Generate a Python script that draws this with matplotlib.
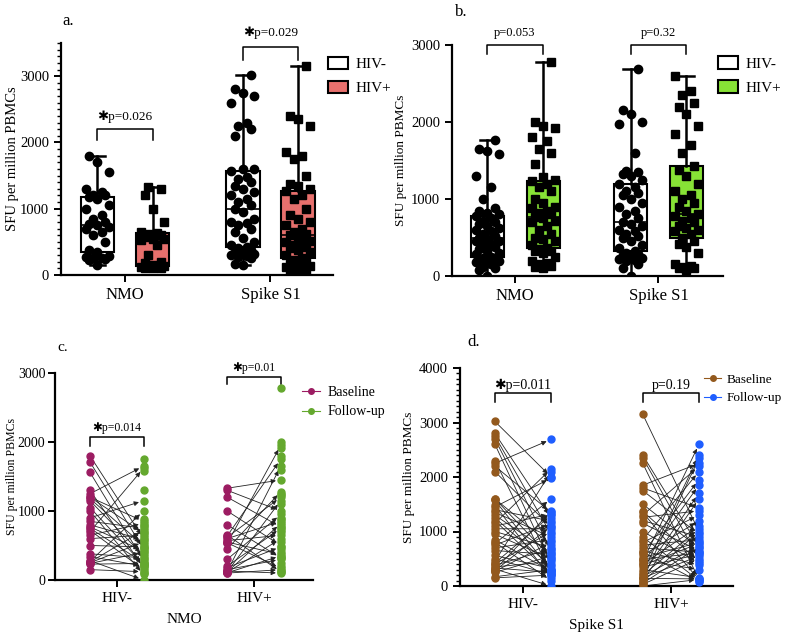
import numpy as np
import matplotlib.pyplot as plt
from matplotlib.lines import Line2D
from matplotlib.patches import Patch
from matplotlib.ticker import MultipleLocator

plt.rcParams['font.family'] = ['Liberation Serif', 'DejaVu Sans']

# SFU per million PBMCs, baseline (panel a)
nmo_neg_base = [150, 230, 240, 250, 260, 270, 280, 340, 380, 500, 600, 650, 700, 720, 750,
                770, 800, 850, 900, 1000, 1050, 1150, 1180, 1200, 1200, 1250, 1300, 1560, 1710, 1800]
nmo_pos_base = [100, 105, 110, 115, 120, 125, 130, 150, 180, 200, 300, 450, 530, 540, 550,
                570, 600, 620, 640, 650, 800, 1000, 1200, 1300, 1330]
s1_neg_base = [150, 170, 250, 270, 280, 300, 310, 330, 350, 380, 400, 420, 450, 500, 560,
               650, 700, 750, 780, 800, 850, 950, 1000, 1050, 1100, 1150, 1200, 1250, 1300, 1350,
               1400, 1450, 1480, 1570, 1600, 1600, 2100, 2200, 2250, 2300, 2600, 2700, 2750, 2800, 3020]
s1_pos_base = [0, 30, 50, 80, 100, 120, 140, 150, 170, 200, 220, 250, 300, 350, 380,
               400, 420, 450, 480, 500, 520, 560, 600, 620, 650, 700, 750, 800, 850, 900,
               1000, 1150, 1200, 1260, 1300, 1350, 1370, 1500, 1750, 1800, 1850, 2250, 2350, 2400, 3150]

# SFU per million PBMCs, follow-up (panel b)
nmo_neg_fu = [0, 80, 100, 120, 150, 180, 200, 200, 220, 230, 240, 250, 280, 300, 320,
              350, 380, 400, 420, 450, 460, 480, 500, 520, 550, 580, 600, 620, 650, 680,
              700, 720, 750, 780, 800, 820, 850, 880, 1000, 1150, 1300, 1580, 1620, 1650, 1760]
nmo_pos_fu = [100, 120, 130, 150, 170, 200, 250, 300, 320, 330, 350, 370, 400, 450, 480,
              500, 550, 600, 650, 700, 720, 750, 770, 800, 820, 850, 880, 900, 950, 1000,
              1100, 1150, 1200, 1230, 1250, 1280, 1450, 1600, 1650, 1750, 1800, 1920, 1950, 2000, 2780]
s1_neg_fu = [0, 100, 150, 200, 210, 220, 240, 250, 270, 290, 300, 320, 360, 400, 450,
             500, 520, 550, 580, 600, 650, 680, 700, 750, 800, 850, 900, 950, 1000, 1050,
             1080, 1100, 1150, 1190, 1250, 1300, 1320, 1350, 1370, 1600, 1980, 2000, 2100, 2150, 2690]
s1_pos_fu = [80, 100, 110, 120, 130, 150, 300, 380, 420, 450, 500, 550, 580, 600, 620,
             650, 700, 720, 750, 780, 800, 850, 900, 950, 1000, 1050, 1100, 1200, 1300, 1380,
             1430, 1600, 1700, 1850, 1950, 2100, 2200, 2250, 2350, 2400, 2600]

antigens = ['NMO', 'Spike S1']
groups = ['HIV-', 'HIV+']

W, H = 791, 636
fig = plt.figure(figsize=(W / 100, H / 100), dpi=100)

SPREAD = [0, -0.055, 0.055, -0.03, 0.03, -0.08, 0.08]


def style_axis(ax):
    for s in ['top', 'right']:
        ax.spines[s].set_visible(False)
    for s in ['left', 'bottom']:
        ax.spines[s].set_linewidth(1.6)
    ax.tick_params(axis='both', direction='out', length=5, width=1.4, labelsize=10.5)
    ax.tick_params(axis='y', which='minor', length=3, width=1.0)


def bracket(ax, x0, x1, y_leg, y_top, label, fs=9.5, gap=0.6):
    ax.plot([x0, x0, x1, x1], [y_leg, y_top, y_top, y_leg], color='k', lw=1.1, clip_on=False)
    ax.text((x0 + x1) / 2, y_top + (y_top - y_leg) * gap, label, ha='center', va='bottom',
            fontsize=fs, clip_on=False)


def box_panel(ax, base_sets, fill, off):
    for i, (neg, pos) in enumerate(base_sets):
        for vals, dx, face, mk in [(neg, -off, 'white', 'o'), (pos, off, fill, 's')]:
            ax.boxplot(vals, positions=[i + dx], widths=0.23, whis=(0, 100), patch_artist=True,
                       showfliers=False, capwidths=0.1,
                       boxprops=dict(facecolor=face, edgecolor='black', linewidth=1.5),
                       whiskerprops=dict(color='black', linewidth=1.8),
                       capprops=dict(color='black', linewidth=1.8),
                       medianprops=dict(color='black', linewidth=1.2))
            xs = [i + dx + SPREAD[k % len(SPREAD)] for k in range(len(vals))]
            ax.plot(xs, vals, ls='none', marker=mk, ms=6, color='black', zorder=4)


def paired_panel(ax, pairs, c_base, c_fu, off):
    for i, (base, fu) in enumerate(pairs):
        m = len(fu)
        for k, v in enumerate(base):
            j = (k * 7 + 3) % m
            ax.annotate('', xy=(i + off, fu[j]), xytext=(i - off, v),
                        arrowprops=dict(arrowstyle='-|>', color='#222222', lw=0.6,
                                        mutation_scale=7, shrinkA=2, shrinkB=3.5), zorder=2)
        ax.plot([i - off] * len(base), base, ls='none', marker='o', ms=5, color=c_base, zorder=3)
        ax.plot([i + off] * len(fu), fu, ls='none', marker='o', ms=5, color=c_fu, zorder=3)


# ---- panel a
ax = fig.add_axes([61 / W, 1 - 275 / H, 272 / W, 232 / H])
box_panel(ax, [(nmo_neg_base, nmo_pos_base), (s1_neg_base, s1_pos_base)], '#E7706D', 0.19)
ax.set_xlim(-0.44, 1.43)
ax.set_ylim(0, 3500)
ax.set_yticks([0, 1000, 2000, 3000])
ax.yaxis.set_minor_locator(MultipleLocator(100))
ax.set_xticks([0, 1])
ax.set_xticklabels(antigens)
ax.set_ylabel('SFU per million PBMCs', fontsize=10.5, labelpad=1)
style_axis(ax)
ax.tick_params(axis='x', labelsize=12)
bracket(ax, -0.19, 0.19, 2040, 2200, '✱p=0.026')
bracket(ax, 0.81, 1.19, 3240, 3440, '✱p=0.029')
ax.legend(handles=[Patch(facecolor='white', edgecolor='black', lw=1.5, label='HIV-'),
                   Patch(facecolor='#E7706D', edgecolor='black', lw=1.5, label='HIV+')],
          loc='upper left', bbox_to_anchor=(0.93, 1.0), frameon=False, fontsize=11,
          handlelength=1.3, handleheight=0.9, handletextpad=0.5, labelspacing=0.6)
fig.text(62 / W, 1 - 21 / H, 'a.', fontsize=12, va='center')

# ---- panel b
ax = fig.add_axes([452 / W, 1 - 276 / H, 271 / W, 231 / H])
box_panel(ax, [(nmo_neg_fu, nmo_pos_fu), (s1_neg_fu, s1_pos_fu)], '#87E236', 0.195)
ax.set_xlim(-0.44, 1.45)
ax.set_ylim(0, 3000)
ax.set_yticks([0, 1000, 2000, 3000])
ax.set_xticks([0, 1])
ax.set_xticklabels(antigens)
ax.set_ylabel('SFU per million PBMCs', fontsize=9.5, labelpad=3)
style_axis(ax)
ax.tick_params(axis='x', labelsize=12)
bracket(ax, -0.195, 0.195, 2880, 3000, 'p=0.053', fs=9)
bracket(ax, 0.805, 1.195, 2880, 3000, 'p=0.32', fs=9)
ax.legend(handles=[Patch(facecolor='white', edgecolor='black', lw=1.5, label='HIV-'),
                   Patch(facecolor='#87E236', edgecolor='black', lw=1.5, label='HIV+')],
          loc='upper left', bbox_to_anchor=(0.93, 1.01), frameon=False, fontsize=11,
          handlelength=1.3, handleheight=0.9, handletextpad=0.5, labelspacing=0.6)
fig.text(455 / W, 1 - 12 / H, 'b.', fontsize=12, va='center')

# ---- panel c
ax = fig.add_axes([55 / W, 1 - 580 / H, 258 / W, 207 / H])
paired_panel(ax, [(nmo_neg_base, nmo_neg_fu), (nmo_pos_base, nmo_pos_fu)], '#9C1C62', '#64A82E', 0.195)
ax.set_xlim(-0.45, 1.43)
ax.set_ylim(0, 3000)
ax.set_yticks([0, 1000, 2000, 3000])
ax.set_xticks([0, 1])
ax.set_xticklabels(groups)
ax.set_xlabel('NMO', fontsize=11, labelpad=6)
ax.set_ylabel('SFU per million PBMCs', fontsize=8.5, labelpad=0)
style_axis(ax)
ax.tick_params(axis='x', labelsize=11)
ax.tick_params(axis='y', labelsize=10, pad=2)
bracket(ax, -0.195, 0.195, 1940, 2070, '✱p=0.014', fs=8.5, gap=0.4)
bracket(ax, 0.805, 1.195, 2840, 2940, '✱p=0.01', fs=8.5, gap=0.4)
ax.legend(handles=[Line2D([], [], color='#9C1C62', marker='o', ms=4, lw=0.8, label='Baseline'),
                   Line2D([], [], color='#64A82E', marker='o', ms=4, lw=0.8, label='Follow-up')],
          loc='upper left', bbox_to_anchor=(0.91, 1.0), frameon=False, fontsize=10,
          handlelength=1.3, handletextpad=0.5, labelspacing=0.5)
fig.text(57 / W, 1 - 347 / H, 'c.', fontsize=11, va='center')

# ---- panel d
ax = fig.add_axes([460 / W, 1 - 586 / H, 273 / W, 218 / H])
paired_panel(ax, [(s1_neg_base, s1_neg_fu), (s1_pos_base, s1_pos_fu)], '#93591D', '#1F5EFF', 0.19)
ax.set_xlim(-0.426, 1.42)
ax.set_ylim(0, 4000)
ax.set_yticks([0, 1000, 2000, 3000, 4000])
ax.yaxis.set_minor_locator(MultipleLocator(100))
ax.set_xticks([0, 1])
ax.set_xticklabels(groups)
ax.set_xlabel('Spike S1', fontsize=11, labelpad=6)
ax.set_ylabel('SFU per million PBMCs', fontsize=9.5, labelpad=3)
style_axis(ax)
ax.tick_params(axis='x', labelsize=11)
bracket(ax, -0.19, 0.19, 3380, 3540, '✱p=0.011', fs=10, gap=0.15)
bracket(ax, 0.81, 1.19, 3380, 3540, 'p=0.19', fs=10, gap=0.15)
ax.legend(handles=[Line2D([], [], color='#93591D', marker='o', ms=4, lw=0.8, label='Baseline'),
                   Line2D([], [], color='#1F5EFF', marker='o', ms=4, lw=0.8, label='Follow-up')],
          loc='upper left', bbox_to_anchor=(0.85, 1.03), frameon=False, fontsize=9.5,
          handlelength=1.3, handletextpad=0.4, labelspacing=0.5)
fig.text(467 / W, 1 - 342 / H, 'd.', fontsize=12, va='center')

fig.savefig('out.png', dpi=100)
